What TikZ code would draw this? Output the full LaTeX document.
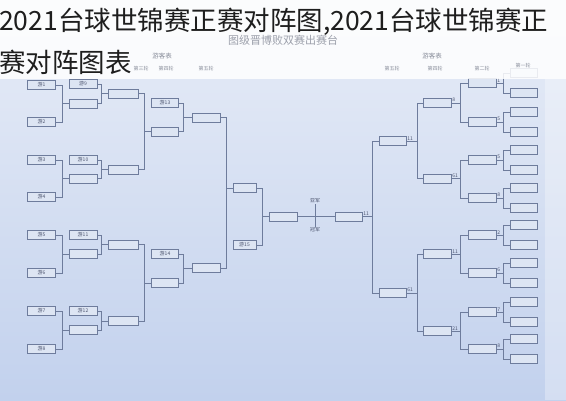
\documentclass[tikz,border=0pt]{standalone}
\usepackage{fontspec}
\setmainfont{Noto Sans CJK SC}
\newfontfamily\cjk{Noto Sans CJK SC}
\definecolor{ln}{HTML}{6E7C9C}
\definecolor{lbl}{HTML}{4E5670}
\definecolor{boxf}{HTML}{DDE5F3}
\definecolor{bgtop}{HTML}{E8EDF7}
\definecolor{bgbot}{HTML}{C2D1ED}
\definecolor{titc}{HTML}{1E1E1E}
\definecolor{hdr}{HTML}{8A8F9C}
\tikzset{
  bx/.style={draw=ln, line width=0.7pt, fill=boxf, minimum height=9pt, inner sep=0pt,
             font=\cjk\fontsize{5}{6}\selectfont, text=lbl},
  cn/.style={draw=ln, line width=0.7pt},
  tg/.style={font=\cjk\fontsize{5}{6}\selectfont, text=lbl, inner sep=0.8pt},
  hd/.style={font=\cjk\fontsize{5}{6}\selectfont, text=hdr, inner sep=0pt},
}
\begin{document}
\begin{tikzpicture}[x=1pt,y=-1pt]
\useasboundingbox (0,0) rectangle (566,400);
% background
\shade[top color=bgtop, bottom color=bgbot] (0,0) rectangle (566,400);

% ---------- left half ----------
\node[bx,minimum width=28pt] (a1) at (41.5,85) {游1};
\node[bx,minimum width=28pt] (a2) at (41.5,122) {游2};
\node[bx,minimum width=28pt] (a3) at (41.5,160) {游3};
\node[bx,minimum width=28pt] (a4) at (41.5,197) {游4};
\node[bx,minimum width=28pt] (a5) at (41.5,235) {游5};
\node[bx,minimum width=28pt] (a6) at (41.5,273) {游6};
\node[bx,minimum width=28pt] (a7) at (41.5,311) {游7};
\node[bx,minimum width=28pt] (a8) at (41.5,349) {游8};

\node[bx,minimum width=28pt] (b1) at (83,84) {游9};
\node[bx,minimum width=28pt] (b2) at (83,103.5) {};
\node[bx,minimum width=28pt] (b3) at (83,160) {游10};
\node[bx,minimum width=28pt] (b4) at (83,178.5) {};
\node[bx,minimum width=28pt] (b5) at (83,235) {游11};
\node[bx,minimum width=28pt] (b6) at (83,254) {};
\node[bx,minimum width=28pt] (b7) at (83,311) {游12};
\node[bx,minimum width=28pt] (b8) at (83,330) {};

\node[bx,minimum width=30pt] (c1) at (123,93.5) {};
\node[bx,minimum width=30pt] (c2) at (123,169.5) {};
\node[bx,minimum width=30pt] (c3) at (123,244.5) {};
\node[bx,minimum width=30pt] (c4) at (123,321) {};

\node[bx,minimum width=27pt] (d1) at (165,103) {游13};
\node[bx,minimum width=27pt] (d2) at (165,131.5) {};
\node[bx,minimum width=27pt] (d3) at (165,254) {游14};
\node[bx,minimum width=27pt] (d4) at (165,283) {};

\node[bx,minimum width=28pt] (e1) at (206,117.5) {};
\node[bx,minimum width=28pt] (e2) at (206,268) {};

\node[bx,minimum width=23pt] (f1) at (244.5,188) {};
\node[bx,minimum width=23pt] (f2) at (244.5,245) {游15};

\node[bx,minimum width=28pt] (g1) at (283,216.5) {};
\node[bx,minimum width=27pt] (g2) at (348.5,216.5) {};

\foreach \s/\t in {a1/b2,a2/b2,a3/b4,a4/b4,a5/b6,a6/b6,a7/b8,a8/b8}
  \draw[cn] (\s.east) -- ++(6.5,0) |- (\t.west);
\foreach \s/\t in {b1/c1,b2/c1,b3/c2,b4/c2,b5/c3,b6/c3,b7/c4,b8/c4}
  \draw[cn] (\s.east) -- ++(4,0) |- (\t.west);
\foreach \s/\t in {c1/d2,c2/d2,c3/d4,c4/d4}
  \draw[cn] (\s.east) -- ++(6,0) |- (\t.west);
\foreach \s/\t in {d1/e1,d2/e1,d3/e2,d4/e2}
  \draw[cn] (\s.east) -- ++(4.5,0) |- (\t.west);
\foreach \s/\t in {e1/f1,e2/f1}
  \draw[cn] (\s.east) -- ++(6,0) |- (\t.west);
\foreach \s/\t in {f1/g1,f2/g1}
  \draw[cn] (\s.east) -- ++(6,0) |- (\t.west);

\draw[cn] (g1.east) -- (g2.west);
\coordinate (xt) at (315,204);
\coordinate (xb) at (315,227);
\draw[cn] (xt) -- (xb);
\node[tg,anchor=south] at (xt) {亚军};
\node[tg,anchor=north] at (xb) {冠军};
\node[tg,anchor=south west] at (g2.east) {11};

% ---------- right half ----------
\node[bx,minimum width=27pt] (h1) at (392.5,141) {};
\node[bx,minimum width=27pt] (h2) at (392.5,293) {};
\node[bx,minimum width=28pt] (i1) at (437,103) {};
\node[bx,minimum width=28pt] (i2) at (437,178.5) {};
\node[bx,minimum width=28pt] (i3) at (437,254) {};
\node[bx,minimum width=28pt] (i4) at (437,331) {};
\foreach \n/\y in {1/83,2/122,3/160,4/198,5/235,6/273,7/312,8/349}
  \node[bx,minimum width=28pt] (j\n) at (482,\y) {};
\foreach \n/\y in {1/73,2/93,3/112,4/132,5/150,6/170,7/188,8/208,
                   9/225,10/245,11/263,12/283,13/302,14/322,15/339,16/359}
  \node[bx,minimum width=27pt,minimum height=9.5pt] (k\n) at (523.5,\y) {};

\foreach \t in {h1,h2}
  \draw[cn] (g2.east) -- ++(10,0) |- (\t.west);
\foreach \s/\t in {h1/i1,h1/i2,h2/i3,h2/i4}
  \draw[cn] (\s.east) -- ++(11,0) |- (\t.west);
\foreach \s/\t in {i1/j1,i1/j2,i2/j3,i2/j4,i3/j5,i3/j6,i4/j7,i4/j8}
  \draw[cn] (\s.east) -- ++(9,0) |- (\t.west);
\foreach \s/\a/\b in {j1/k1/k2,j2/k3/k4,j3/k5/k6,j4/k7/k8,j5/k9/k10,j6/k11/k12,j7/k13/k14,j8/k15/k16}{
  \draw[cn] (\s.east) -- ++(7,0) |- (\a.west);
  \draw[cn] (\s.east) -- ++(7,0) |- (\b.west);
}
\foreach \s/\l in {h1/11,h2/61,i1/8,i2/61,i3/11,i4/21,j1/1,j2/5,j3/5,j4/8,j5/2,j6/6,j7/7,j8/8}
  \node[tg,anchor=south west] at (\s.east) {\l};

% light strip on the right
\fill[white,opacity=0.3] (545,79) rectangle (566,400);

% ---------- header band ----------
\fill[white,opacity=0.85] (0,0) rectangle (566,79);
\node[font=\cjk\fontsize{11}{13}\selectfont, text=hdr!85, inner sep=0] (mt) at (283,40) {图级晋博败双赛出赛台};
\node[font=\cjk\fontsize{6.5}{8}\selectfont, text=hdr, inner sep=0] (hl) at (162,56) {游客表};
\node[font=\cjk\fontsize{6.5}{8}\selectfont, text=hdr, inner sep=0] (hr) at (432,56) {游客表};
\node[hd] (c01) at (141,69) {第三轮};
\node[hd] (c02) at (166,69) {第四轮};
\node[hd] (c03) at (206,69) {第五轮};
\node[hd] (c04) at (392,69) {第五轮};
\node[hd] (c05) at (435,69) {第四轮};
\node[hd] (c06) at (482,69) {第二轮};
\node[hd] (c07) at (523,66) {第一轮};

% ---------- title ----------
\node[anchor=west, font=\cjk\fontsize{26.5}{30}\selectfont, text=titc, inner sep=0] (t1) at (-1,22) {2021台球世锦赛正赛对阵图,2021台球世锦赛正};
\node[anchor=west, font=\cjk\fontsize{26.5}{30}\selectfont, text=titc, inner sep=0] (t2) at (-1,62) {赛对阵图表};
\end{tikzpicture}
\end{document}
